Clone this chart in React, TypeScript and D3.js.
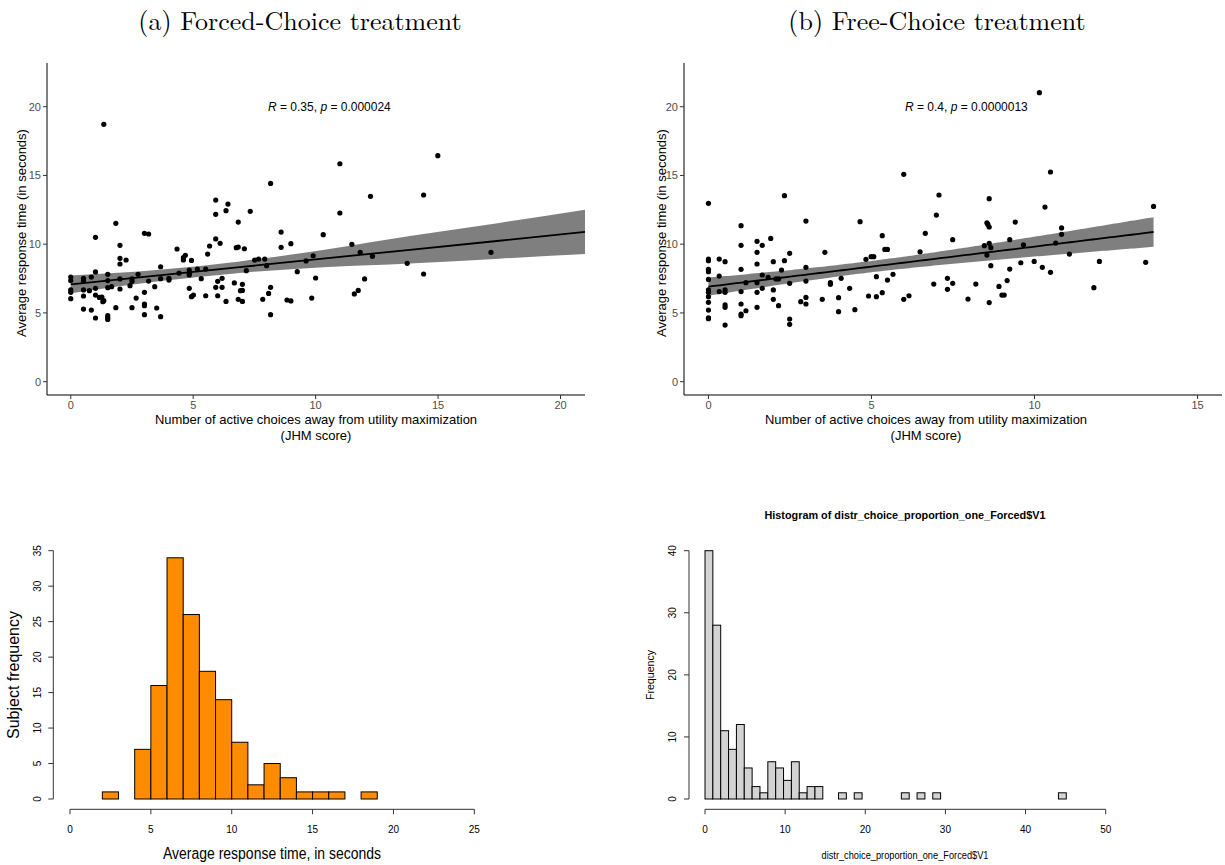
import React from 'react';
import * as d3 from 'd3';

// (a) Forced-Choice: JHM score vs average response time
const forcedJhm = [
  0, 0, 0, 0, 0,
  0.52, 0.52, 0.52, 0.52, 0.52,
  0.76, 0.84, 0.84,
  1.01, 1.01, 1.01, 1.01, 1.01,
  1.17, 1.27, 1.35, 1.35, 1.31,
  1.51, 1.51, 1.51, 1.51, 1.51, 1.51,
  1.67, 1.84, 1.84,
  2.01, 2.01, 2.01, 2.01, 2.01,
  2.26, 2.42, 2.5, 2.5, 2.5, 2.67, 2.75,
  3.01, 3.18, 3.01, 3.01, 3.01, 3.01, 3.18,
  3.43, 3.51, 3.67, 3.67, 3.67,
  4.01, 4.01, 4.34, 4.42, 4.6, 4.6, 4.68,
  4.84, 4.84, 4.84, 4.84, 4.93, 4.93,
  5.01, 5.17, 5.33, 5.51, 5.51, 5.59, 5.67,
  5.92, 5.92, 5.92, 5.92, 6.0, 6.0, 6.1, 6.18, 6.18, 6.34, 6.34, 6.42,
  6.68, 6.76, 6.84, 6.84, 6.84, 6.93, 7.01, 7.01, 7.01, 7.09, 7.17, 7.33,
  7.51, 7.67, 7.84, 7.92, 8.0, 8.08, 8.16, 8.16, 8.16,
  8.59, 8.59, 8.83, 8.99, 8.99, 9.25, 9.61,
  9.9, 10.0, 9.84, 10.31, 10.99, 10.99, 11.48, 11.82, 11.58, 11.74, 12.0, 12.24, 12.32, 13.74, 14.41, 14.41, 14.99, 17.16,
];
const forcedRt = [
  7.61, 7.35, 6.67, 6.5, 6.04,
  7.52, 7.32, 6.67, 6.23, 5.28,
  6.62, 7.61, 5.21,
  10.5, 7.98, 6.79, 6.3, 4.63,
  6.13, 6.16, 18.72, 5.89, 5.82,
  7.81, 7.35, 6.84, 4.8, 4.65, 4.53,
  6.91, 11.52, 5.38,
  9.92, 8.97, 8.56, 7.47, 6.74,
  8.85, 6.98, 7.47, 7.3, 5.38, 6.08, 7.81,
  10.79, 10.74, 6.5, 5.65, 5.53, 4.87, 7.32,
  6.91, 5.36, 8.36, 7.49, 4.73,
  7.52, 7.39, 9.65, 7.9, 8.85, 9.02, 9.19,
  8.12, 7.88, 7.76, 6.79, 8.82, 6.18,
  6.3, 8.19, 7.49, 8.19, 6.25, 9.28, 9.87,
  13.21, 12.17, 10.38, 6.86, 6.25, 7.3, 10.06, 7.52, 6.86, 12.44, 5.84, 12.92,
  7.18, 9.75, 11.61, 9.79, 5.99, 6.62, 6.64, 5.84, 7.08, 9.67, 8.07, 12.39,
  8.85, 8.92, 5.99, 8.92, 8.44, 6.42, 14.42, 6.86, 4.87,
  10.88, 9.77, 5.94, 10.04, 5.87, 8.0, 8.78,
  9.16, 7.54, 6.08, 10.69, 15.85, 12.27, 9.99, 9.41, 6.38, 6.64, 7.47, 13.48, 9.12, 8.61, 13.58, 7.83, 16.44, 9.41,
];
// fitted line and 95% band of panel (a)
const forcedFitX = [0, 3.5, 6.9, 10.5, 13.85, 17.5, 21.0];
const forcedFitY = [7.08, 7.71, 8.33, 8.99, 9.59, 10.25, 10.89];
const forcedFitLo = [6.43, 7.29, 7.91, 8.34, 8.59, 8.95, 9.28];
const forcedFitHi = [7.73, 8.13, 8.75, 9.64, 10.59, 11.55, 12.5];

// (b) Free-Choice
const freeJhm = [
  0, 0, 0, 0, 0, 0, 0, 0, 0, 0, 0, 0, 0,
  0.33, 0.33, 0.33,
  0.51, 0.51, 0.51, 0.51, 0.51, 0.51,
  1, 1, 1, 1, 1, 1, 1,
  1.15, 1.15,
  1.49, 1.49, 1.49, 1.49, 1.49, 1.49,
  1.65, 1.65, 1.65,
  1.83, 1.91, 1.99, 1.99, 1.99, 2.07, 2.15, 2.15, 2.24, 2.33, 2.33,
  2.49, 2.49, 2.49, 2.49, 2.83, 2.99, 2.99, 2.99, 2.99, 2.99,
  3.49, 3.57, 3.74, 3.74, 3.99, 3.99, 4.07, 4.33, 4.49, 4.65, 4.83, 4.91, 4.99, 5.07,
  5.15, 5.15, 5.33, 5.33, 5.41, 5.49, 5.49, 5.66, 5.99, 5.99, 6.15, 6.49, 6.65, 6.91, 6.99, 7.07,
  7.33, 7.33, 7.49, 7.49, 7.96, 8.2, 8.46, 8.54, 8.54, 8.57, 8.61, 8.61, 8.61, 8.61, 8.66, 8.66,
  8.91, 9, 9.07, 9.16, 9.24, 9.24, 9.41, 9.58, 9.66, 9.99, 10.15, 10.24, 10.32, 10.49, 10.49, 10.65, 10.83, 10.83, 11.07, 11.82, 11.99, 13.41, 13.65,
];
const freeRt = [
  12.97, 8.92, 8.8, 8.17, 8.0, 7.44, 6.67, 6.5, 6.18, 5.77, 5.21, 4.65, 4.58,
  8.92, 7.68, 6.55,
  8.73, 6.67, 6.5, 5.58, 5.41, 4.12,
  11.35, 9.92, 8.17, 6.55, 5.65, 4.92, 4.8,
  7.2, 5.16,
  10.21, 9.41, 8.56, 7.2, 6.5, 5.41,
  9.92, 7.76, 6.79,
  7.59, 10.42, 8.73, 6.67, 5.99, 7.47, 7.47, 5.53, 8.12, 13.53, 8.8,
  9.33, 7.15, 4.56, 4.17, 5.82, 11.68, 8.32, 7.32, 6.13, 5.65,
  5.99, 9.41, 7.2, 7.08, 6.11, 5.09, 7.52, 6.79, 5.24, 11.64, 8.9, 6.23, 9.09, 9.09,
  7.64, 6.18, 10.62, 6.47, 9.62, 9.62, 7.39, 7.81, 15.08, 5.99, 6.25, 9.45, 10.79, 7.1, 12.12, 13.58,
  7.52, 6.72, 10.33, 7.15, 6.01, 7.1, 9.89, 11.56, 9.21, 11.44, 13.31, 11.25, 10.06, 5.75, 9.75, 8.44,
  6.93, 6.3, 6.3, 7.35, 10.33, 8.19, 11.61, 8.65, 9.96, 8.75, 21.02, 8.32, 12.7, 15.25, 7.95, 10.08, 11.18, 10.72, 9.28, 6.84, 8.75, 8.68, 12.75,
];

// histogram of average response time
const rtBreaks = [2, 3, 4, 5, 6, 7, 8, 9, 10, 11, 12, 13, 14, 15, 16, 17, 18, 19];
const rtCounts = [1, 0, 7, 16, 34, 26, 18, 14, 8, 2, 5, 3, 1, 1, 1, 0, 1];

// histogram of distr_choice_proportion_one_Forced$V1
const propBinWidth = 0.98;
const propCounts = [
  40, 28, 11, 8, 12, 5, 2, 1, 6, 5, 3, 6, 1, 2, 2, 0, 0, 1, 0, 1,
  0, 0, 0, 0, 0, 1, 0, 1, 0, 1, 0, 0, 0, 0, 0, 0, 0, 0, 0, 0,
  0, 0, 0, 0, 0, 1, 0, 0, 0, 0, 0,
];

const sans = '"Liberation Sans", Arial, Helvetica, sans-serif';

type FitPt = { x: number; y: number; lo: number; hi: number };

// lm fit with 95% confidence band, like geom_smooth(method = "lm")
function fitLm(xs: number[], ys: number[], x0: number, x1: number): FitPt[] {
  const n = xs.length;
  const mx = d3.mean(xs) as number;
  const my = d3.mean(ys) as number;
  let sxx = 0, sxy = 0;
  xs.forEach((x, i) => { sxx += (x - mx) ** 2; sxy += (x - mx) * (ys[i] - my); });
  const b = sxy / sxx;
  const a = my - b * mx;
  let sse = 0;
  xs.forEach((x, i) => { sse += (ys[i] - a - b * x) ** 2; });
  const s = Math.sqrt(sse / (n - 2));
  const t = 1.978;
  return d3.range(0, 81).map((i) => {
    const x = x0 + ((x1 - x0) * i) / 80;
    const yh = a + b * x;
    const se = s * Math.sqrt(1 / n + (x - mx) ** 2 / sxx);
    return { x, y: yh, lo: yh - t * se, hi: yh + t * se };
  });
}

type ScatterProps = {
  xs: number[]; ys: number[];
  left: number; right: number;
  xDomain: [number, number]; xTicks: number[];
  fit: FitPt[];
  rText: string; pText: string; annX: number;
  titleX: number; yTitleX: number;
};

function Scatter(p: ScatterProps) {
  const top = 63, bottom = 395;
  const x = d3.scaleLinear().domain(p.xDomain).range([p.left, p.right]);
  const y = d3.scaleLinear().domain([-0.97, 23.18]).range([bottom, top]);
  const band = d3.area<FitPt>().x((d) => x(d.x)).y0((d) => y(d.lo)).y1((d) => y(d.hi)).curve(d3.curveMonotoneX);
  const line = d3.line<FitPt>().x((d) => x(d.x)).y((d) => y(d.y));
  const yTicks = [0, 5, 10, 15, 20];
  return (
    <g fontFamily={sans}>
      <path d={band(p.fit) as string} fill="#7f7f7f" />
      {p.xs.map((v, i) => (
        <circle key={i} cx={x(v)} cy={y(p.ys[i])} r={2.6} fill="#000" />
      ))}
      <path d={line(p.fit) as string} fill="none" stroke="#000" strokeWidth={1.8} />
      <line x1={p.left} x2={p.left} y1={top} y2={bottom} stroke="#000" strokeWidth={1} />
      <line x1={p.left} x2={p.right} y1={bottom} y2={bottom} stroke="#000" strokeWidth={1} />
      {yTicks.map((t) => (
        <g key={t}>
          <line x1={p.left - 4} x2={p.left} y1={y(t)} y2={y(t)} stroke="#333" />
          <text x={p.left - 6} y={y(t) + 4} fontSize={11} fill="#4d4d4d" textAnchor="end">{t}</text>
        </g>
      ))}
      {p.xTicks.map((t) => (
        <g key={t}>
          <line x1={x(t)} x2={x(t)} y1={bottom} y2={bottom + 4} stroke="#333" />
          <text x={x(t)} y={bottom + 14} fontSize={11} fill="#4d4d4d" textAnchor="middle">{t}</text>
        </g>
      ))}
      <text x={p.annX} y={111} fontSize={12}>
        <tspan fontStyle="italic">R</tspan>{` = ${p.rText}, `}
        <tspan fontStyle="italic">p</tspan>{` = ${p.pText}`}
      </text>
      <text x={p.titleX} y={423.5} fontSize={13} textAnchor="middle">
        Number of active choices away from utility maximization
      </text>
      <text x={p.titleX} y={439.5} fontSize={13} textAnchor="middle">(JHM score)</text>
      <text transform={`translate(${p.yTitleX},233) rotate(-90)`} fontSize={13} textAnchor="middle">
        Average response time (in seconds)
      </text>
    </g>
  );
}

function RtHistogram() {
  const x = d3.scaleLinear().domain([0, 25]).range([70, 474.3]);
  const y = d3.scaleLinear().domain([0, 35]).range([799, 550.7]);
  const axisY = 809.3, axisX = 53.3;
  return (
    <g fontFamily={sans}>
      {rtCounts.map((c, i) => (
        <rect key={i} x={x(rtBreaks[i])} y={y(c)} width={x(rtBreaks[i + 1]) - x(rtBreaks[i])}
          height={y(0) - y(c)} fill="#FF8C00" stroke="#000" strokeWidth={1} />
      ))}
      <line x1={axisX} x2={axisX} y1={y(0)} y2={y(35)} stroke="#333" />
      {d3.range(0, 36, 5).map((t) => (
        <g key={t}>
          <line x1={axisX - 5} x2={axisX} y1={y(t)} y2={y(t)} stroke="#333" />
          <text transform={`translate(${axisX - 12},${y(t)}) rotate(-90)`} fontSize={10} textAnchor="middle">{t}</text>
        </g>
      ))}
      <line x1={x(0)} x2={x(25)} y1={axisY} y2={axisY} stroke="#333" />
      {d3.range(0, 26, 5).map((t) => (
        <g key={t}>
          <line x1={x(t)} x2={x(t)} y1={axisY} y2={axisY + 5} stroke="#333" />
          <text x={x(t)} y={833} fontSize={10} textAnchor="middle">{t}</text>
        </g>
      ))}
      <text x={272} y={859} fontSize={16} textAnchor="middle" textLength={218} lengthAdjust="spacingAndGlyphs">
        Average response time, in seconds
      </text>
      <text transform="translate(19,675) rotate(-90)" fontSize={16} textAnchor="middle" textLength={128} lengthAdjust="spacingAndGlyphs">
        Subject frequency
      </text>
    </g>
  );
}

function PropHistogram() {
  const x = d3.scaleLinear().domain([0, 50]).range([705, 1105.7]);
  const y = d3.scaleLinear().domain([0, 40]).range([799, 550.7]);
  const axisY = 809.3, axisX = 689;
  return (
    <g fontFamily={sans}>
      {propCounts.map((c, i) => (
        <rect key={i} x={x(i * propBinWidth)} y={y(c)} width={x(propBinWidth) - x(0)}
          height={y(0) - y(c)} fill="#D3D3D3" stroke="#000" strokeWidth={1} />
      ))}
      <line x1={axisX} x2={axisX} y1={y(0)} y2={y(40)} stroke="#333" />
      {d3.range(0, 41, 10).map((t) => (
        <g key={t}>
          <line x1={axisX - 5} x2={axisX} y1={y(t)} y2={y(t)} stroke="#333" />
          <text transform={`translate(${axisX - 13},${y(t)}) rotate(-90)`} fontSize={10} textAnchor="middle">{t}</text>
        </g>
      ))}
      <line x1={x(0)} x2={x(50)} y1={axisY} y2={axisY} stroke="#333" />
      {d3.range(0, 51, 10).map((t) => (
        <g key={t}>
          <line x1={x(t)} x2={x(t)} y1={axisY} y2={axisY + 5} stroke="#333" />
          <text x={x(t)} y={833} fontSize={10} textAnchor="middle">{t}</text>
        </g>
      ))}
      <text x={905} y={519} fontSize={11} fontWeight="bold" textAnchor="middle" textLength={281} lengthAdjust="spacingAndGlyphs">
        Histogram of distr_choice_proportion_one_Forced$V1
      </text>
      <text x={905} y={859} fontSize={10} textAnchor="middle" textLength={167} lengthAdjust="spacingAndGlyphs">
        distr_choice_proportion_one_Forced$V1
      </text>
      <text transform="translate(654,675) rotate(-90)" fontSize={10} textAnchor="middle" textLength={50} lengthAdjust="spacingAndGlyphs">
        Frequency
      </text>
    </g>
  );
}

export default function App() {
  const serif = '"Latin Modern Roman", "Liberation Serif", "DejaVu Serif", serif';
  const forcedFit: FitPt[] = forcedFitX.map((v, i) => ({ x: v, y: forcedFitY[i], lo: forcedFitLo[i], hi: forcedFitHi[i] }));
  const freeFit = fitLm(freeJhm, freeRt, 0, d3.max(freeJhm) as number);
  return (
    <svg width={1225} height={865} style={{ position: 'absolute', left: 0, top: 0, background: '#fff' }}>
      <rect width={1225} height={865} fill="#fff" />
      <text x={300} y={30} fontFamily={serif} fontSize={26} textAnchor="middle">(a) Forced-Choice treatment</text>
      <text x={937} y={30} fontFamily={serif} fontSize={26} textAnchor="middle">(b) Free-Choice treatment</text>
      <Scatter xs={forcedJhm} ys={forcedRt} left={47} right={585} xDomain={[-0.97, 21.0]}
        xTicks={[0, 5, 10, 15, 20]} fit={forcedFit} rText="0.35" pText="0.000024" annX={268}
        titleX={316} yTitleX={26} />
      <Scatter xs={freeJhm} ys={freeRt} left={684} right={1222} xDomain={[-0.75, 15.75]}
        xTicks={[0, 5, 10, 15]} fit={freeFit} rText="0.4" pText="0.0000013" annX={905}
        titleX={926} yTitleX={666} />
      <RtHistogram />
      <PropHistogram />
    </svg>
  );
}
